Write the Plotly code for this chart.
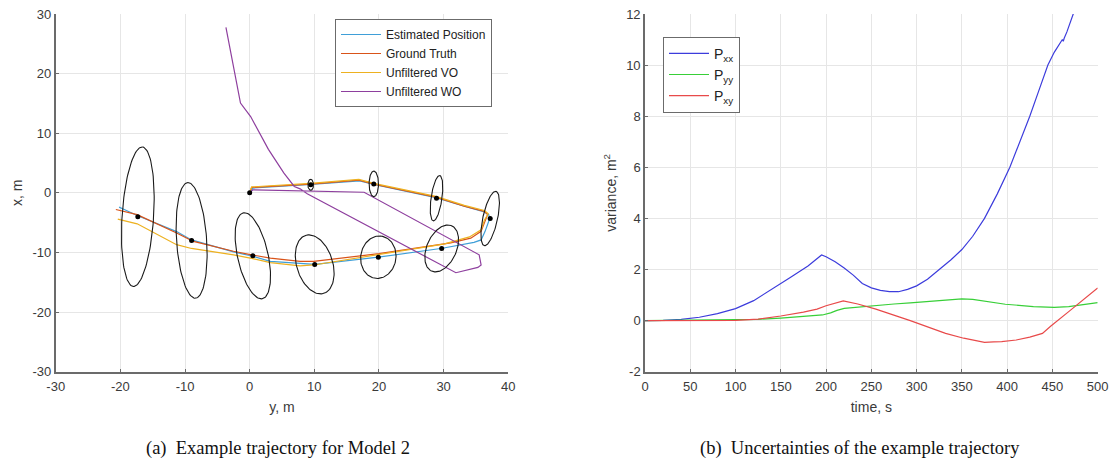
import numpy as np
import plotly.graph_objects as go

# ---------------- (a) trajectory data: horizontal = y [m], vertical = x [m] ----------------
est_y = [0.0, 0.5, 9.5, 17.0, 19.2, 28.8, 33.3, 36.3, 37.0, 37.1, 36.4, 35.8, 34.7, 29.8, 19.9, 10.1,
         3.2, 0.3, -2.5, -9.0, -11.3, -12.0, -17.4, -19.4, -20.2]
est_x = [0.0, 0.8, 1.4, 2.0, 1.4, -0.8, -2.3, -3.2, -3.7, -4.4, -6.5, -7.9, -8.3, -9.3, -10.8, -12.0,
         -11.5, -10.6, -9.9, -7.9, -6.5, -6.2, -3.8, -2.8, -2.4]

gt_y = [0.0, 0.3, 9.4, 16.9, 19.2, 28.8, 33.2, 36.3, 36.8, 35.8, 34.2, 31.1, 20.0, 9.9, 7.8, 3.2,
        0.3, -2.5, -8.7, -11.3, -17.4, -20.7]
gt_x = [0.0, 0.9, 1.46, 2.13, 1.46, -0.73, -2.25, -3.1, -3.65, -6.46, -7.6, -8.4, -10.2, -11.5,
        -11.5, -10.95, -10.4, -9.8, -8.15, -6.74, -3.65, -2.8]

vo_y = [0.0, 0.3, 9.4, 16.9, 19.2, 28.8, 33.2, 36.3, 36.9, 36.3, 35.8, 34.0, 30.0, 20.0, 9.9, 7.8,
        3.2, 0.3, -2.5, -9.0, -11.3, -17.4, -20.4]
vo_x = [0.0, 1.0, 1.6, 2.25, 1.6, -0.6, -2.1, -2.95, -3.5, -4.6, -6.2, -7.4, -8.6, -10.4, -12.1,
        -12.25, -11.7, -11.0, -10.4, -9.33, -8.7, -5.2, -4.4]

wo_y = [0.0, 0.5, 17.7, 35.5, 35.8, 35.3, 31.9, 8.9, 7.8, 6.9, 5.3, 2.9, 0.15, -1.42, -3.67]
wo_x = [0.0, 0.5, 0.1, -10.4, -12.1, -12.5, -13.4, -0.17, 0.67, 1.07, 3.3, 7.3, 12.8, 15.06, 27.76]

# covariance ellipses: centres, semi-axes and major-axis angle (deg from the horizontal axis)
ell_cy = [-17.3, -8.98, 0.49, 10.06, 19.9, 29.7, 37.2, 28.9, 19.2, 9.44]
ell_cx = [-4.0, -7.98, -10.56, -12.0, -10.8, -9.33, -4.3, -0.9, 1.5, 1.35]
ell_a = [11.72, 9.72, 7.35, 5.07, 3.57, 4.11, 4.64, 3.83, 2.15, 0.92]
ell_b = [2.44, 2.33, 2.37, 2.8, 2.73, 2.32, 1.14, 0.84, 0.73, 0.44]
ell_ang = [86.6, 93.5, 101.4, 104.9, 83.6, 69.4, 78.8, 82.5, 90.0, 90.0]
start_y = [0.0]
start_x = [0.0]

# ---------------- (b) covariance terms over time ----------------
t_xx = [0, 20, 40, 60, 80, 100, 120, 140, 160, 180, 195, 200, 210, 220, 230, 240, 250, 260, 270,
        280, 290, 300, 312, 325, 338, 350, 362, 375, 389, 403, 414, 425, 435, 445, 452, 458, 461,
        462, 463, 466, 473, 480]
p_xx = [0.0, 0.01, 0.05, 0.13, 0.27, 0.47, 0.78, 1.22, 1.68, 2.14, 2.57, 2.5, 2.3, 2.06, 1.78,
        1.45, 1.28, 1.18, 1.13, 1.13, 1.22, 1.36, 1.62, 2.0, 2.38, 2.78, 3.3, 4.0, 4.95, 6.0, 7.0,
        8.0, 9.0, 10.0, 10.5, 10.85, 11.0, 10.93, 11.05, 11.3, 12.0, 12.5]

t_yy = [0, 50, 100, 125, 150, 175, 196, 205, 212, 220, 240, 255, 275, 293, 312, 332, 350, 362,
        375, 398, 429, 452, 468, 485, 500]
p_yy = [0.0, 0.01, 0.02, 0.05, 0.1, 0.15, 0.22, 0.3, 0.4, 0.48, 0.55, 0.6, 0.65, 0.69, 0.74, 0.8,
        0.85, 0.83, 0.76, 0.64, 0.55, 0.52, 0.55, 0.63, 0.7]

t_xy = [0, 50, 100, 125, 150, 175, 190, 200, 210, 219, 235, 255, 293, 332, 352, 365, 375, 385,
        394, 410, 425, 439, 448, 468, 500]
p_xy = [0.0, 0.0, 0.01, 0.06, 0.18, 0.33, 0.45, 0.58, 0.68, 0.77, 0.65, 0.45, 0.0, -0.5, -0.69,
        -0.79, -0.85, -0.83, -0.82, -0.76, -0.65, -0.5, -0.22, 0.35, 1.28]

# tick positions; labels use a plain hyphen for the minus sign
ticks_a_h = [-30, -20, -10, 0, 10, 20, 30, 40]
ticks_a_v = [-30, -20, -10, 0, 10, 20, 30]
ticks_b_t = [0, 50, 100, 150, 200, 250, 300, 350, 400, 450, 500]
ticks_b_v = [-2, 0, 2, 4, 6, 8, 10, 12]


def labels(vals):
    return [str(v) for v in vals]


FONT = "Liberation Sans, Arial, sans-serif"
SERIF = "Liberation Serif, DejaVu Serif, serif"

fig = go.Figure()

# trajectories
for name, xs, ys, col in [
    ("Estimated Position", est_y, est_x, "#3f9fd8"),
    ("Ground Truth", gt_y, gt_x, "#d95319"),
    ("Unfiltered VO", vo_y, vo_x, "#edb120"),
    ("Unfiltered WO", wo_y, wo_x, "#8e3f9e"),
]:
    fig.add_trace(go.Scatter(x=xs, y=ys, mode="lines", name=name,
                             line=dict(color=col, width=1.2),
                             xaxis="x", yaxis="y", legend="legend"))

# uncertainty ellipses
tt = np.linspace(0, 2 * np.pi, 121)
for cy, cx, a, b, ang in zip(ell_cy, ell_cx, ell_a, ell_b, ell_ang):
    th = np.deg2rad(ang)
    u = a * np.cos(tt)
    v = b * np.sin(tt)
    ex = cy + u * np.cos(th) - v * np.sin(th)
    ey = cx + u * np.sin(th) + v * np.cos(th)
    fig.add_trace(go.Scatter(x=ex, y=ey, mode="lines", showlegend=False,
                             line=dict(color="#1a1a1a", width=1.1),
                             xaxis="x", yaxis="y", hoverinfo="skip"))

fig.add_trace(go.Scatter(x=ell_cy + start_y, y=ell_cx + start_x, mode="markers", showlegend=False,
                         marker=dict(color="black", size=5), xaxis="x", yaxis="y"))

# variances
for name, xs, ys, col in [
    ("P<sub>xx</sub>", t_xx, p_xx, "#3c3cdc"),
    ("P<sub>yy</sub>", t_yy, p_yy, "#38cf38"),
    ("P<sub>xy</sub>", t_xy, p_xy, "#e84a4a"),
]:
    fig.add_trace(go.Scatter(x=xs, y=ys, mode="lines", name=name,
                             line=dict(color=col, width=1.2),
                             xaxis="x2", yaxis="y2", legend="legend2"))

axis_common = dict(
    showgrid=True, gridcolor="#e6e6e6", gridwidth=1, zeroline=False,
    showline=True, linecolor="#6b6b6b", linewidth=1.6, mirror=False,
    ticks="inside", ticklen=3, tickcolor="#6b6b6b", tickwidth=1,
    tickfont=dict(family=FONT, size=13, color="#3a3a3a"),
    title_font=dict(family=FONT, size=14, color="#3a3a3a"),
    automargin=False, tickmode="array",
)

dom_y = [0.1955, 0.9697]
fig.update_layout(
    width=1110, height=462,
    margin=dict(l=0, r=0, t=0, b=0),
    paper_bgcolor="white", plot_bgcolor="white",
    xaxis=dict(axis_common, domain=[0.0502, 0.4579], range=[-30, 40],
               tickvals=ticks_a_h, ticktext=labels(ticks_a_h), ticklabelstandoff=2,
               title=dict(text="y, m", standoff=9), anchor="y"),
    yaxis=dict(axis_common, domain=dom_y, range=[-30, 30],
               tickvals=ticks_a_v, ticktext=labels(ticks_a_v),
               title=dict(text="x, m", standoff=7), anchor="x"),
    xaxis2=dict(axis_common, domain=[0.5811, 0.9889], range=[0, 500],
                tickvals=ticks_b_t, ticktext=labels(ticks_b_t), ticklabelstandoff=2,
                title=dict(text="time, s", standoff=9), anchor="y2"),
    yaxis2=dict(axis_common, domain=dom_y, range=[-2, 12],
                tickvals=ticks_b_v, ticktext=labels(ticks_b_v),
                title=dict(text="variance, m<sup>2</sup>", standoff=6), anchor="x2"),
    legend=dict(x=335 / 1110, y=1 - 19 / 462, xanchor="left", yanchor="top",
                bgcolor="white", bordercolor="#6b6b6b", borderwidth=1,
                font=dict(family=FONT, size=12, color="#222"), itemwidth=40,
                tracegroupgap=0),
    legend2=dict(x=663 / 1110, y=1 - 36.7 / 462, xanchor="left", yanchor="top",
                 bgcolor="white", bordercolor="#6b6b6b", borderwidth=1,
                 font=dict(family=FONT, size=14, color="#222"), itemwidth=40,
                 tracegroupgap=0),
    showlegend=True,
    annotations=[
        dict(text="(a)  Example trajectory for Model 2", x=278 / 1110, y=1 - 448 / 462,
             xref="paper", yref="paper", xanchor="center", yanchor="middle", showarrow=False,
             font=dict(family=SERIF, size=18.5, color="#111")),
        dict(text="(b)  Uncertainties of the example trajectory", x=860 / 1110, y=1 - 448 / 462,
             xref="paper", yref="paper", xanchor="center", yanchor="middle", showarrow=False,
             font=dict(family=SERIF, size=18.5, color="#111")),
    ],
)

fig.write_html("out.html")
